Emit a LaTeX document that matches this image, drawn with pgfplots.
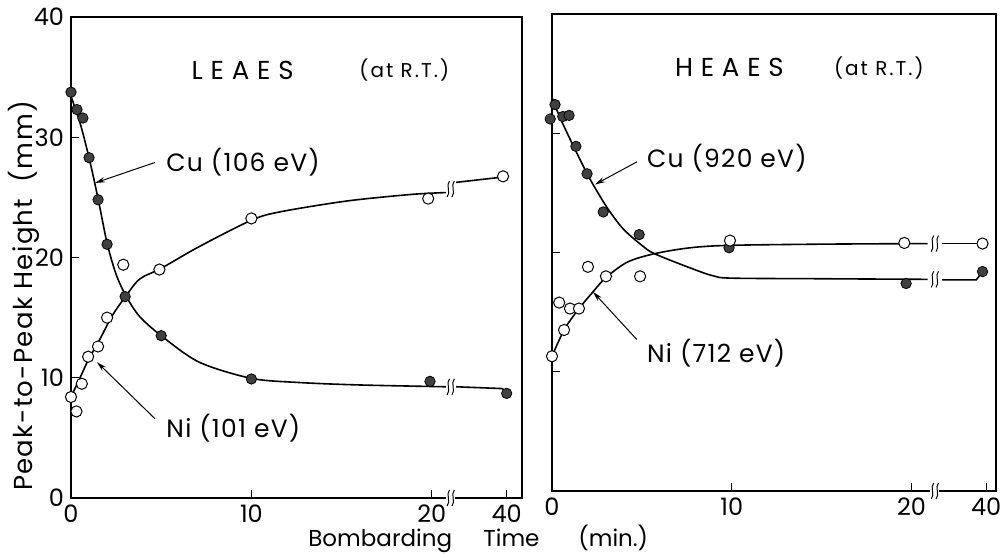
\documentclass[border=0pt]{standalone}
\usepackage{fontspec}
\setmainfont{Poppins}
\usepackage{pgfplots}
\pgfplotsset{compat=1.18}
\usetikzlibrary{arrows.meta}

% marks; the 40 min points sit at x=24.15 (after the axis break)
\pgfplotstableread{
x y
0 33.75
0.33 32.3
0.66 31.6
1.0 28.3
1.5 24.8
2.0 21.1
3.0 16.75
5.0 13.5
10.0 9.9
19.9 9.7
24.15 8.7
}\cuL
\pgfplotstableread{
x y
0 8.4
0.3 7.2
0.6 9.5
0.95 11.75
1.5 12.6
2.0 15.0
2.9 19.4
4.9 19.0
10.0 23.25
19.8 24.9
23.95 26.75
}\niL
\pgfplotstableread{
x y
-0.1 31.2
0.17 32.4
0.6 31.4
0.95 31.5
1.33 28.9
1.95 26.6
2.85 23.4
4.85 21.5
9.85 20.4
19.7 17.4
23.95 18.4
}\cuR
\pgfplotstableread{
x y
0 11.3
0.4 15.8
0.67 13.5
1.0 15.3
1.5 15.3
2.0 18.8
3.0 18.0
4.9 18.0
9.9 21.0
19.6 20.8
23.95 20.75
}\niR

\newcommand\tfont{\fontsize{12}{14}\selectfont}
\newcommand\lfont{\fontsize{12.5}{14}\selectfont\addfontfeature{LetterSpace=5}}
\newcommand\hfont{\fontsize{13}{15}\selectfont\addfontfeature{LetterSpace=30}}
\newcommand\sfont{\fontsize{10}{12}\selectfont\addfontfeature{LetterSpace=10}}
\newcommand\brk[2]{%
  \fill[white] ([shift={(-2.2pt,-4pt)}]axis cs:#1,#2) rectangle ([shift={(2.2pt,4pt)}]axis cs:#1,#2);
  \draw[line width=0.5pt] ([shift={(-1.8pt,-4pt)}]axis cs:#1,#2) .. controls +(2pt,2pt) and +(-2pt,-2pt) .. ([shift={(-0.6pt,4pt)}]axis cs:#1,#2);
  \draw[line width=0.5pt] ([shift={(0.6pt,-4pt)}]axis cs:#1,#2) .. controls +(2pt,2pt) and +(-2pt,-2pt) .. ([shift={(1.8pt,4pt)}]axis cs:#1,#2);
}

\tikzset{
  lab/.style={anchor=west, font=\lfont},
  arr/.style={-{Stealth[length=5pt,width=2.6pt]}, line width=0.5pt},
  xl/.style={anchor=base west, inner sep=0pt, font=\fontsize{11.5}{13}\selectfont},
}
\pgfplotsset{
  panel/.style={scale only axis, clip=false, ymin=0, ymax=40, xmin=0,
    axis line style={line width=0.6pt}, tick pos=left, tick align=inside,
    major tick length=4pt, tick style={line width=0.6pt, black},
    ticklabel style={font=\tfont}, /pgf/number format/assume math mode=true,
    xtick={0,10,20,24.15}, xticklabels={0,10,20,40}},
  cu/.style={only marks, mark=*, mark size=2.6pt, mark options={draw=black, fill=black!75, line width=0.4pt}},
  ni/.style={only marks, mark=*, mark size=2.8pt, mark options={draw=black, fill=white, line width=0.5pt}},
  fit/.style={smooth, no markers, line width=0.8pt, black},
  seg/.style={sharp plot, no markers, line width=0.8pt, black},
}

\begin{document}
\begin{tikzpicture}
\useasboundingbox (-35.5pt,-27.5pt) rectangle (466pt,249pt);

\begin{axis}[panel, at={(0,0)}, anchor=south west, width=225.5pt, height=240.5pt,
  xmax=25, ytick={0,10,20,30,40},
  ylabel={Peak-to-Peak\ Height\ \ (mm)},
  ylabel style={at={(axis description cs:-0.104,0.42)}, anchor=center,
    font=\fontsize{13}{15}\selectfont\addfontfeature{LetterSpace=5}}]
\addplot[fit] coordinates {(0,33.4)(0.5,31.2)(1.0,28.3)(1.5,24.9)(2.0,21.2)(2.5,18.6)(3.05,16.8)(3.8,15.1)(5,13.5)(7.1,11.3)(10,9.95)(12.7,9.6)(16,9.4)(20.8,9.25)};
\addplot[seg] coordinates {(21.35,9.25)(23.9,9.1)(24.15,8.8)};
\addplot[fit] coordinates {(0,8.4)(0.5,10.0)(1.0,11.6)(1.6,13.2)(2.3,15.2)(3.0,16.7)(3.8,18.2)(5,19.1)(7.1,20.9)(10,23.1)(11.6,23.8)(15.3,24.7)(18.9,25.25)(20.8,25.4)};
\addplot[seg] coordinates {(21.35,26.25)(24.0,26.7)};
\addplot[cu] table {\cuL};
\addplot[ni] table {\niL};
\brk{21.05}{0}
\brk{21.05}{9.25}
\brk{21.05}{25.7}
\node[lab, font=\hfont] at (axis cs:6.3,35.6) {LEAES};
\node[lab, font=\sfont] at (axis cs:15.6,35.6) {(at R.T.)};
\node[lab] at (axis cs:4.9,27.9) {Cu (106 eV)};
\draw[arr] (axis cs:4.65,27.9) -- (axis cs:1.33,26.2);
\node[lab] at (axis cs:4.9,5.8) {Ni (101 eV)};
\draw[arr] (axis cs:4.65,6.6) -- (axis cs:1.44,11.3);
\end{axis}

\begin{axis}[panel, at={(240.5pt,3.5pt)}, anchor=south west, width=222pt, height=238.5pt,
  xmax=24.7, ytick={10,20,30}, yticklabels={}]
\addplot[fit] coordinates {(0,33.0)(0.45,31.3)(1.2,28.9)(2.1,26.2)(3.05,23.8)(3.95,22.0)(5.0,20.6)(5.7,19.9)(7.7,18.7)(8.95,18.05)(10,17.85)(15,17.8)(20.9,17.75)};
\addplot[seg] coordinates {(21.7,17.7)(23.6,17.7)(23.95,18.4)};
\addplot[fit] coordinates {(0,11.3)(0.67,13.5)(1.45,15.2)(2.28,16.7)(3.0,17.9)(4.2,19.2)(5.7,19.9)(7.7,20.4)(9.9,20.6)(15,20.7)(20.9,20.75)};
\addplot[seg] coordinates {(21.7,20.75)(23.95,20.75)};
\addplot[cu] table {\cuR};
\addplot[ni] table {\niR};
\brk{21.3}{0}
\brk{21.3}{17.75}
\brk{21.3}{20.75}
\node[lab, font=\hfont] at (axis cs:6.45,35.5) {HEAES};
\node[lab, font=\sfont] at (axis cs:15.3,35.5) {(at R.T.)};
\node[lab] at (axis cs:4.9,27.95) {Cu (920 eV)};
\draw[arr] (axis cs:4.72,27.6) -- (axis cs:2.39,25.7);
\node[lab] at (axis cs:4.9,11.6) {Ni (712 eV)};
\draw[arr] (axis cs:4.72,12.7) -- (axis cs:2.28,16.7);
\end{axis}

% x-axis title, words spaced as in the figure
\node[xl] at (118.5pt,-24pt) {Bombarding};
\node[xl] at (206pt,-24pt) {Time};
\node[xl] at (253.5pt,-24pt) {(min.)};
\end{tikzpicture}
\end{document}
